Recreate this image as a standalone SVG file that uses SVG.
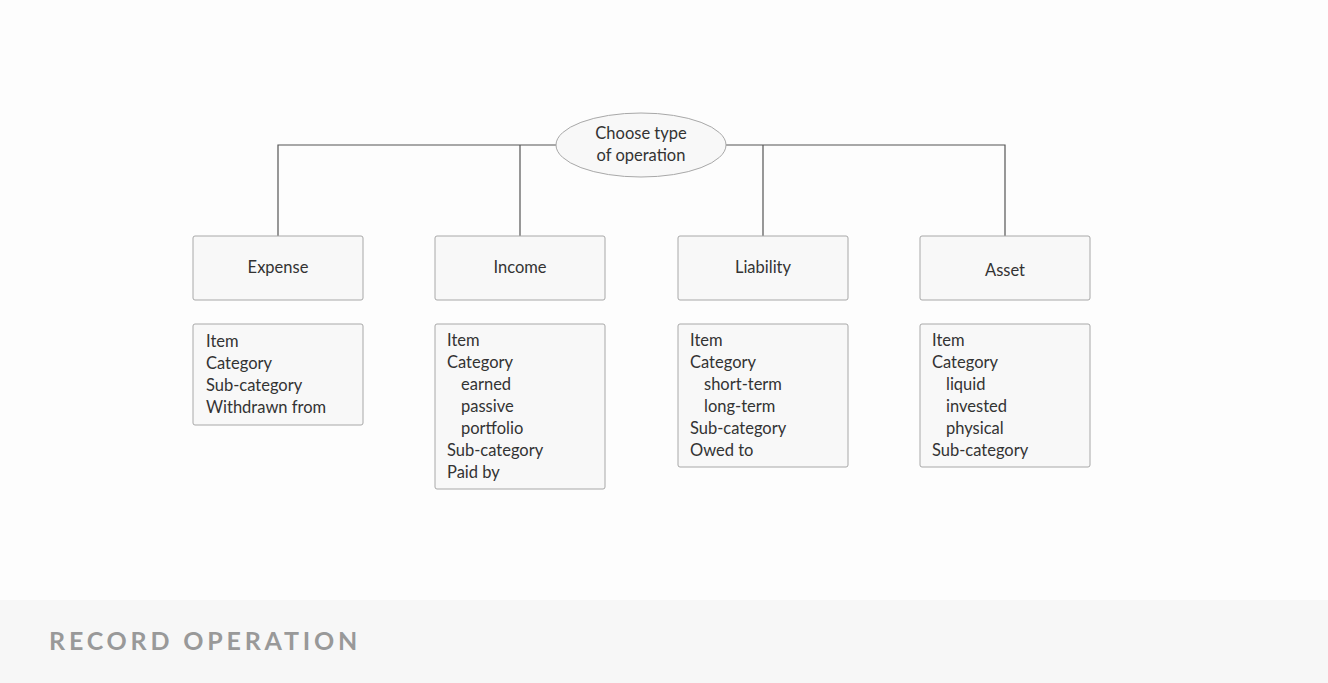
<svg xmlns="http://www.w3.org/2000/svg" width="1328" height="683" viewBox="0 0 1328 683">
<style>
.box{fill:#f8f8f8;stroke:#a8a8a8;stroke-width:1}
.t{font-family:Lato,"Open Sans","Liberation Sans",sans-serif;font-size:16.5px;fill:#333}
.c{text-anchor:middle}
.ln{fill:none;stroke:#555;stroke-width:1.2}
</style>
<rect x="0" y="0" width="1328" height="683" fill="#fdfdfd"/>
<rect x="0" y="600" width="1328" height="83" fill="#f7f7f7"/>
<text x="49" y="650" font-family="Lato,'Open Sans','Liberation Sans',sans-serif" font-size="25" font-weight="bold" letter-spacing="3.8" fill="#999">RECORD OPERATION</text>
<g id="connectors">
<path class="ln" d="M557 145H278V236M520 145V236M726 145H1005V236M763 145V236"/>
</g>
<g id="choose">
<ellipse cx="641" cy="145" rx="85" ry="32" class="box"/>
<text class="t c" x="641" y="139">Choose type</text>
<text class="t c" x="641" y="161">of operation</text>
</g>
<g id="expense">
<rect class="box" x="193" y="236" width="170" height="64" rx="2"/>
<text class="t c" x="278" y="273">Expense</text>
</g>
<g id="income">
<rect class="box" x="435" y="236" width="170" height="64" rx="2"/>
<text class="t c" x="520" y="273">Income</text>
</g>
<g id="liability">
<rect class="box" x="678" y="236" width="170" height="64" rx="2"/>
<text class="t c" x="763" y="273">Liability</text>
</g>
<g id="asset">
<rect class="box" x="920" y="236" width="170" height="64" rx="2"/>
<text class="t c" x="1005" y="276">Asset</text>
</g>
<g id="expense-fields">
<rect class="box" x="193" y="324" width="170" height="101" rx="2"/>
<text class="t" x="206" y="347">Item</text>
<text class="t" x="206" y="369">Category</text>
<text class="t" x="206" y="391">Sub-category</text>
<text class="t" x="206" y="413">Withdrawn from</text>
</g>
<g id="income-fields">
<rect class="box" x="435" y="324" width="170" height="165" rx="2"/>
<text class="t" x="447" y="346">Item</text>
<text class="t" x="447" y="368">Category</text>
<text class="t" x="461" y="390">earned</text>
<text class="t" x="461" y="412">passive</text>
<text class="t" x="461" y="434">portfolio</text>
<text class="t" x="447" y="456">Sub-category</text>
<text class="t" x="447" y="478">Paid by</text>
</g>
<g id="liability-fields">
<rect class="box" x="678" y="324" width="170" height="143" rx="2"/>
<text class="t" x="690" y="346">Item</text>
<text class="t" x="690" y="368">Category</text>
<text class="t" x="704" y="390">short-term</text>
<text class="t" x="704" y="412">long-term</text>
<text class="t" x="690" y="434">Sub-category</text>
<text class="t" x="690" y="456">Owed to</text>
</g>
<g id="asset-fields">
<rect class="box" x="920" y="324" width="170" height="143" rx="2"/>
<text class="t" x="932" y="346">Item</text>
<text class="t" x="932" y="368">Category</text>
<text class="t" x="946" y="390">liquid</text>
<text class="t" x="946" y="412">invested</text>
<text class="t" x="946" y="434">physical</text>
<text class="t" x="932" y="456">Sub-category</text>
</g>
</svg>
